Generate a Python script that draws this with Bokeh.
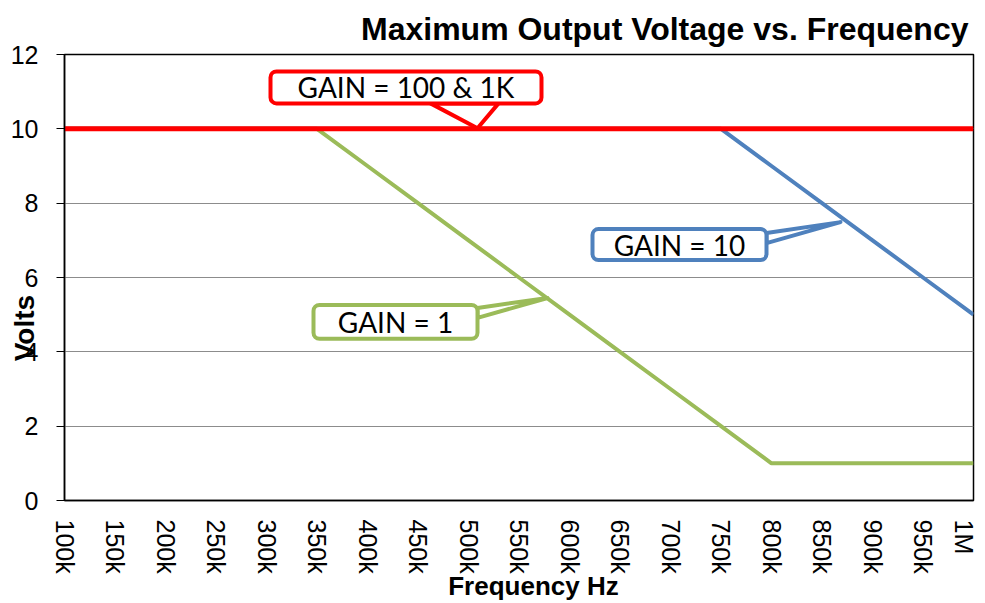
import math
from bokeh.plotting import figure
from bokeh.models import Range1d, FixedTicker, Label, BoxAnnotation
from bokeh.embed import file_html
from bokeh.resources import INLINE

# ---- data ----
freq_khz = [100, 150, 200, 250, 300, 350, 400, 450, 500, 550,
            600, 650, 700, 750, 800, 850, 900, 950, 1000]
freq_labels = ["100k", "150k", "200k", "250k", "300k", "350k", "400k", "450k",
               "500k", "550k", "600k", "650k", "700k", "750k", "800k", "850k",
               "900k", "950k", "1M"]
gain_100_1k = [10, 10, 10, 10, 10, 10, 10, 10, 10, 10,
               10, 10, 10, 10, 10, 10, 10, 10, 10]
gain_10 = [10, 10, 10, 10, 10, 10, 10, 10, 10, 10,
           10, 10, 10, 10, 9, 8, 7, 6, 5]
gain_1 = [10, 10, 10, 10, 10, 10, 9, 8, 7, 6,
          5, 4, 3, 2, 1, 1, 1, 1, 1]
y_ticks = [0, 2, 4, 6, 8, 10, 12]

W, H = 977, 603
FL, FR, FT, FB = 64, 973, 54, 501  # frame edges in figure px

NB = "\u00a0"

p = figure(width=W, height=H, output_backend="svg", toolbar_location=None,
           x_range=Range1d(100, 1000), y_range=Range1d(0, 12),
           min_border_left=FL, min_border_right=W - FR,
           min_border_top=FT, min_border_bottom=H - FB)
p.outline_line_color = "black"
p.outline_line_width = 1.5
p.background_fill_color = "white"
p.border_fill_color = "white"

# title
p.title.text = "Maximum Output Voltage vs. Frequency"
p.title.align = "right"
p.title.text_font = "Liberation Sans"
p.title.text_font_style = "bold"
p.title.text_font_size = "32px"
p.title.text_color = "black"
p.title.offset = 5
p.title.standoff = 15

# axes
p.xaxis.ticker = FixedTicker(ticks=freq_khz)
p.xaxis.major_label_overrides = {k: l for k, l in zip(freq_khz, freq_labels)}
p.xaxis.major_label_orientation = -math.pi / 2
p.xaxis.major_tick_out = 0
p.xaxis.major_tick_in = 0
p.xaxis.minor_tick_line_color = None
p.xaxis.major_label_standoff = 19
p.xaxis.axis_label = NB * 4 + "Frequency Hz"
p.xaxis.axis_label_standoff = -6
p.yaxis.ticker = FixedTicker(ticks=y_ticks)
p.yaxis.major_tick_out = 8
p.yaxis.major_tick_in = 0
p.yaxis.minor_tick_line_color = None
p.yaxis.major_label_standoff = 18
p.yaxis.axis_label = "Volts" + NB * 13
p.yaxis.axis_label_standoff = -32
for ax in (p.xaxis, p.yaxis):
    ax.axis_line_color = "black"
    ax.axis_line_width = 1.5
    ax.major_tick_line_color = "black"
    ax.major_label_text_font = "Liberation Sans"
    ax.major_label_text_font_size = "25px"
    ax.major_label_text_color = "black"
    ax.axis_label_text_font = "Liberation Sans"
    ax.axis_label_text_font_style = "bold"
    ax.axis_label_text_font_size = "26px"
    ax.axis_label_text_color = "black"
p.yaxis.axis_label_text_font_size = "28px"
p.xgrid.grid_line_color = None
p.ygrid.ticker = FixedTicker(ticks=y_ticks)
p.ygrid.grid_line_color = "#8c8c8c"
p.ygrid.grid_line_width = 1


def dx(px):  # figure px -> data x
    return 100 + (px - FL) * 900.0 / (FR - FL)


def dy(py):  # figure px -> data y
    return (FB - py) * 12.0 / (FB - FT)


# series
p.line(freq_khz, gain_1, line_color="#9BBB59", line_width=4)
p.line(freq_khz, gain_10, line_color="#4F81BD", line_width=4)
p.line(freq_khz, gain_100_1k, line_color="#FF0000", line_width=5)

# callouts
callouts = [
    ("GAIN = 100 & 1K", "#FF0000", (270, 541, 71, 103), [(430, 103), (498, 103), (477, 128)]),
    ("GAIN = 10", "#4F81BD", (592, 766, 229, 260), [(766, 233), (766, 243), (840, 222)]),
    ("GAIN = 1", "#9BBB59", (313, 477, 305, 339), [(477, 308), (477, 318), (547, 298)]),
]
for text, col, (l, r, t, b), tri in callouts:
    p.patch([dx(a) for a, _ in tri], [dy(c) for _, c in tri],
            fill_color="white", line_color=col, line_width=4, line_join="round")
    p.add_layout(BoxAnnotation(left=dx(l), right=dx(r), top=dy(t), bottom=dy(b),
                               fill_color="white", fill_alpha=1.0,
                               line_color=col, line_width=4, line_alpha=1.0,
                               border_radius=6, level="overlay"))
    p.add_layout(Label(x=dx((l + r) / 2), y=dy((t + b) / 2), text=text,
                       text_align="center", text_baseline="middle",
                       text_font="Lato", text_font_size="28px",
                       text_color="black", level="overlay"))

open("out.html", "w").write(file_html(p, INLINE))
